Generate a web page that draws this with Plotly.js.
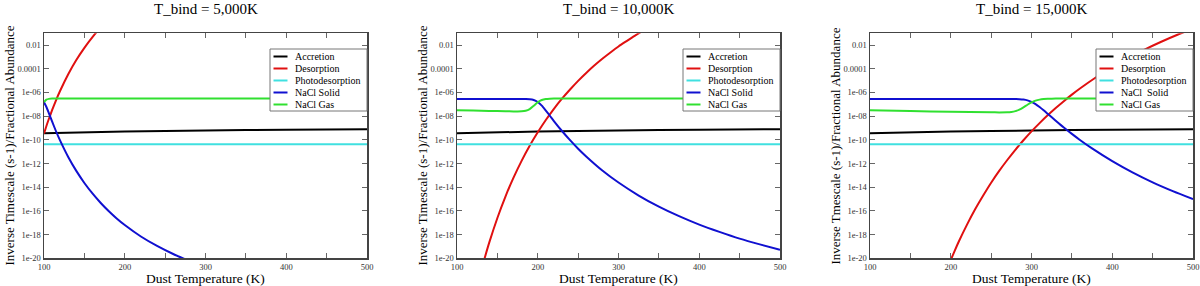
<!DOCTYPE html>
<html>
<head>
<meta charset="utf-8">
<script src="https://cdn.plot.ly/plotly-3.0.1.min.js"></script>
<style>html,body{margin:0;padding:0;background:#fff}#chart{width:1200px;height:286px}</style>
</head>
<body>
<div id="chart"></div>
<script>
// ---------------- DATA ----------------
const PANEL_TITLES = ["T_bind = 5,000K", "T_bind = 10,000K", "T_bind = 15,000K"];
const X_TITLE = "Dust Temperature (K)";
const Y_TITLES = [
  "Inverse Timescale (s-1)/Fractional Abundance",
  "Inverse Timescale (s-1)/Fractional Abundance",
  "Inverse Tmescale (s-1)/Fractional Abundance"
];
const SERIES_NAMES = ["Accretion", "Desorption", "Photodesorption", "NaCl Solid", "NaCl Gas"];
const LEGEND_LABELS_3 = ["Accretion", "Desorption", "Photodesorption", "NaCl  Solid", "NaCl Gas"];

const X_TICKVALS = [100, 150, 200, 250, 300, 350, 400, 450, 500];
const X_TICKTEXT = ["100", "", "200", "", "300", "", "400", "", "500"];
const Y_TICKVALS = [1e-20, 1e-18, 1e-16, 1e-14, 1e-12, 1e-10, 1e-8, 1e-6, 1e-4, 1e-2];
const Y_TICKTEXT = ["1e-20", "1e-18", "1e-16", "1e-14", "1e-12", "1e-10", "1e-08", "1e-06", "0.0001", "0.01"];

// Accretion and photodesorption (same in all three panels)
const T_ACC = [100, 200, 300, 400, 500];
const ACCRETION = [3.6e-10, 5.1e-10, 6.2e-10, 7.2e-10, 8.05e-10];
const T_PHOTO = [100, 500];
const PHOTODESORPTION = [4.2e-11, 4.2e-11];

// Panel 1: T_bind = 5,000K
const T_DES_5000 = [100, 103, 106, 110, 115, 120, 130, 140, 150, 160, 170, 180];
const DES_5000 = [3.4e-10, 1.5e-9, 5.8e-9, 3.2e-8, 2.3e-7, 1.4e-6, 3.5e-5, 5.5e-4, 5.9e-3, 4.8e-2, 0.30, 1.5];
const T_SOLID_5000 = [100, 103, 106, 110, 115, 120, 130, 140, 150, 160, 170, 180, 190, 200, 220, 240, 260, 280];
const SOLID_5000 = [1.5e-7, 6.0e-8, 1.85e-8, 3.6e-9, 5.1e-10, 8.6e-11, 3.6e-12, 2.4e-13, 2.3e-14, 3.0e-15, 4.9e-16, 9.8e-17, 2.3e-17, 6.4e-18, 6.9e-19, 1.1e-19, 2.3e-20, 6.0e-21];
const T_GAS_5000 = [100, 103, 106, 110, 115, 120, 200, 300, 400, 500];
const GAS_5000 = [1.6e-7, 2.5e-7, 2.9e-7, 3.06e-7, 3.09e-7, 3.1e-7, 3.1e-7, 3.1e-7, 3.1e-7, 3.1e-7];

// Panel 2: T_bind = 10,000K
const T_DES_10000 = [130, 135, 140, 150, 160, 170, 180, 190, 200, 210, 220, 230, 240, 250, 260, 270, 280, 290, 300, 310, 320, 330, 340];
const DES_10000 = [9.0e-22, 1.55e-20, 2.2e-19, 2.55e-17, 1.65e-15, 6.5e-14, 1.7e-12, 3.2e-11, 4.4e-10, 4.8e-9, 4.2e-8, 3.0e-7, 1.8e-6, 9.7e-6, 4.5e-5, 1.9e-4, 7.1e-4, 2.4e-3, 7.7e-3, 2.2e-2, 6.1e-2, 0.16, 0.39];
const T_NACL_10000 = [100, 120, 140, 160, 170, 180, 185, 190, 195, 200, 205, 210, 215, 220, 230, 240, 250, 260, 280, 300, 325, 350, 375, 400, 425, 450, 475, 500];
const SOLID_10000 = [2.78e-7, 2.80e-7, 2.82e-7, 2.84e-7, 2.845e-7, 2.84e-7, 2.81e-7, 2.70e-7, 2.34e-7, 1.59e-7, 7.8e-8, 3.0e-8, 1.09e-8, 3.9e-9, 5.6e-10, 9.4e-11, 1.8e-11, 4.0e-12, 2.6e-13, 2.5e-14, 2.0e-15, 2.3e-16, 3.6e-17, 7.0e-18, 1.7e-18, 4.6e-19, 1.5e-19, 5.3e-20];
const GAS_10000 = [3.24e-8, 2.99e-8, 2.78e-8, 2.62e-8, 2.55e-8, 2.57e-8, 2.85e-8, 4.0e-8, 7.6e-8, 1.51e-7, 2.32e-7, 2.8e-7, 2.99e-7, 3.06e-7, 3.09e-7, 3.1e-7, 3.1e-7, 3.1e-7, 3.1e-7, 3.1e-7, 3.1e-7, 3.1e-7, 3.1e-7, 3.1e-7, 3.1e-7, 3.1e-7, 3.1e-7, 3.1e-7];

// Panel 3: T_bind = 15,000K
const T_DES_15000 = [195, 200, 205, 210, 220, 230, 240, 250, 260, 270, 280, 290, 300, 310, 320, 330, 340, 350, 360, 380, 400, 420, 440, 460, 480, 500];
const DES_15000 = [1.05e-21, 7.2e-21, 4.5e-20, 2.6e-19, 6.6e-18, 1.3e-16, 1.9e-15, 2.4e-14, 2.4e-13, 2.0e-12, 1.46e-11, 9.3e-11, 5.2e-10, 2.6e-9, 1.18e-8, 4.9e-8, 1.86e-7, 6.6e-7, 2.16e-6, 1.94e-5, 1.39e-4, 8.3e-4, 4.2e-3, 1.85e-2, 7.2e-2, 0.25];
const T_NACL_15000 = [100, 150, 200, 250, 260, 270, 275, 280, 285, 290, 295, 300, 305, 310, 315, 320, 330, 340, 350, 360, 375, 400, 425, 450, 475, 500];
const SOLID_15000 = [2.78e-7, 2.83e-7, 2.86e-7, 2.89e-7, 2.89e-7, 2.886e-7, 2.87e-7, 2.83e-7, 2.74e-7, 2.54e-7, 2.17e-7, 1.63e-7, 1.06e-7, 6.0e-8, 3.15e-8, 1.6e-8, 4.1e-9, 1.1e-9, 3.2e-10, 9.8e-11, 1.9e-11, 1.6e-12, 1.8e-13, 2.6e-14, 4.7e-15, 9.9e-16];
const GAS_15000 = [3.24e-8, 2.70e-8, 2.36e-8, 2.13e-8, 2.10e-8, 2.14e-8, 2.28e-8, 2.66e-8, 3.58e-8, 5.6e-8, 9.3e-8, 1.47e-7, 2.05e-7, 2.5e-7, 2.79e-7, 2.94e-7, 3.06e-7, 3.09e-7, 3.1e-7, 3.1e-7, 3.1e-7, 3.1e-7, 3.1e-7, 3.1e-7, 3.1e-7, 3.1e-7];

// ---------------- STYLE / LAYOUT ----------------
const W = 1200, H = 286;
const FONT = "'Liberation Serif', 'Times New Roman', serif";
const COLORS = ["#000000", "#e01010", "#40e0e0", "#1010d0", "#30e030"];
const PLOT_LEFT = [44, 457, 870];
const PLOT_W = 323;
const PLOT_TOP = 33.3, PLOT_BOTTOM = 258.3;

const px = x => x / W;
const py = y => 1 - y / H;

const panels = [
  {des: [T_DES_5000, DES_5000], solid: [T_SOLID_5000, SOLID_5000], gas: [T_GAS_5000, GAS_5000]},
  {des: [T_DES_10000, DES_10000], solid: [T_NACL_10000, SOLID_10000], gas: [T_NACL_10000, GAS_10000]},
  {des: [T_DES_15000, DES_15000], solid: [T_NACL_15000, SOLID_15000], gas: [T_NACL_15000, GAS_15000]}
];

const traces = [];
panels.forEach((p, i) => {
  const xa = i === 0 ? "x" : "x" + (i + 1);
  const ya = i === 0 ? "y" : "y" + (i + 1);
  const series = [
    [T_ACC, ACCRETION],
    p.des,
    [T_PHOTO, PHOTODESORPTION],
    p.solid,
    p.gas
  ];
  series.forEach((s, k) => {
    traces.push({
      type: "scatter", mode: "lines",
      x: s[0], y: s[1], xaxis: xa, yaxis: ya,
      name: SERIES_NAMES[k], showlegend: false,
      line: {color: COLORS[k], width: 2, shape: "spline", smoothing: 0.6},
      hoverinfo: "skip"
    });
  });
});

const layout = {
  width: W, height: H,
  margin: {l: 0, r: 0, t: 0, b: 0},
  paper_bgcolor: "#ffffff", plot_bgcolor: "#ffffff",
  showlegend: false,
  font: {family: FONT, color: "#222", size: 9},
  annotations: [], shapes: []
};

for (let i = 0; i < 3; i++) {
  const sfx = i === 0 ? "" : String(i + 1);
  const x0 = PLOT_LEFT[i], x1 = PLOT_LEFT[i] + PLOT_W;
  layout["xaxis" + sfx] = {
    domain: [px(x0), px(x1)], anchor: "y" + sfx,
    range: [100, 500], type: "linear",
    tickmode: "array", tickvals: X_TICKVALS, ticktext: X_TICKTEXT,
    ticks: "inside", ticklen: 5, tickwidth: 1, tickcolor: "#666",
    showline: true, linecolor: "#444", linewidth: 1.5, mirror: "ticks",
    showgrid: false, zeroline: false,
    tickfont: {family: FONT, size: 8.5, color: "#333"}
  };
  layout["yaxis" + sfx] = {
    domain: [py(PLOT_BOTTOM), py(PLOT_TOP)], anchor: "x" + sfx,
    type: "log", range: [-20, -1],
    tickmode: "array", tickvals: Y_TICKVALS, ticktext: Y_TICKTEXT,
    ticks: "inside", ticklen: 5, tickwidth: 1, tickcolor: "#666",
    showline: true, linecolor: "#444", linewidth: 1.5, mirror: "ticks",
    showgrid: false, zeroline: false,
    tickfont: {family: FONT, size: 8.5, color: "#333"}
  };
  const cx = (x0 + x1) / 2;
  // panel title
  layout.annotations.push({
    xref: "paper", yref: "paper", x: px(cx), y: py(9), xanchor: "center", yanchor: "middle",
    text: PANEL_TITLES[i], showarrow: false, font: {family: FONT, size: 15, color: "#000"}
  });
  // x axis title
  layout.annotations.push({
    xref: "paper", yref: "paper", x: px(cx), y: py(278), xanchor: "center", yanchor: "middle",
    text: X_TITLE, showarrow: false, font: {family: FONT, size: 13.5, color: "#000"}
  });
  // y axis title
  layout.annotations.push({
    xref: "paper", yref: "paper", x: px(x0 - 35.5), y: py(146), xanchor: "center", yanchor: "middle",
    text: Y_TITLES[i], textangle: -90, showarrow: false, font: {family: FONT, size: 13, color: "#000"}
  });
  // legend box
  const lx0 = x1 - 97, ly0 = 49, ly1 = 111;
  layout.shapes.push({
    type: "rect", xref: "paper", yref: "paper",
    x0: px(lx0), x1: px(x1), y0: py(ly1), y1: py(ly0),
    line: {color: "#777", width: 1}, fillcolor: "#ffffff", layer: "above"
  });
  const labels = i === 2 ? LEGEND_LABELS_3 : SERIES_NAMES;
  labels.forEach((lab, k) => {
    const yy = 56.5 + 12 * k;
    layout.shapes.push({
      type: "line", xref: "paper", yref: "paper",
      x0: px(lx0 + 3.5), x1: px(lx0 + 17.5), y0: py(yy), y1: py(yy),
      line: {color: COLORS[k], width: 2}, layer: "above"
    });
    layout.annotations.push({
      xref: "paper", yref: "paper", x: px(lx0 + 22.5), y: py(yy), xanchor: "left", yanchor: "middle",
      text: lab, showarrow: false, font: {family: FONT, size: 10, color: "#000"}
    });
  });
}

Plotly.newPlot("chart", traces, layout, {displayModeBar: false, staticPlot: true});
</script>
</body>
</html>
